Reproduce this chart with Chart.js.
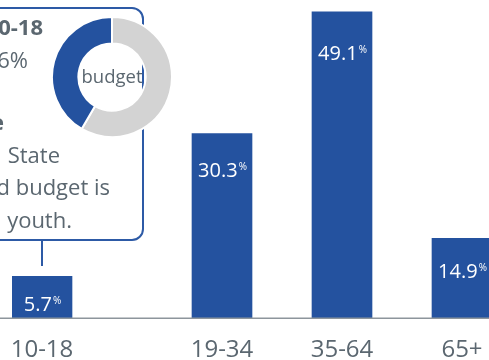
<!DOCTYPE html>
<html>
<head>
<meta charset="utf-8">
<script src="https://cdn.jsdelivr.net/npm/chart.js@4"></script>
<style>
  html, body { margin: 0; padding: 0; background: #fff; overflow: hidden; }
  #stage { position: relative; width: 489px; height: 360px; overflow: hidden; font-family: 'Open Sans', sans-serif; color: #5b6770; }
  #main { position: absolute; left: 0; top: 0; }
  #callout {
    position: absolute; left: -100px; top: 7px; width: 244px; height: 234px;
    box-sizing: border-box; border: 2px solid #2d5aa6; border-radius: 12px; background: #fff;
  }
  #stem { position: absolute; left: 41px; top: 240px; width: 2px; height: 26px; background: #2d5aa6; }
  .line { position: absolute; font-size: 22px; line-height: 33px; white-space: nowrap; text-align: right; }
  .bold { font-weight: bold; }
  #donut { position: absolute; left: 51px; top: 16px; }
  #donutLabel { position: absolute; left: 51px; top: 15px; width: 122px; height: 122px; line-height: 122px; text-align: center; font-size: 18.5px; }
</style>
</head>
<body>
<div id="stage">
  <canvas id="main" width="500" height="383"></canvas>
  <div id="callout"></div>
  <div id="stem"></div>
  <!-- texto del recuadro, recortado por la izquierda como en el original -->
  <div class="line bold" style="right:446px; top:10px;">Ages 10-18</div>
  <div class="line" style="right:461px; top:43px;">41.6%</div>
  <div class="line bold" style="right:485px; top:105px;">Share</div>
  <div class="line" style="right:429px; top:138px;">of the&nbsp;&nbsp; State</div>
  <div class="line" style="right:379px; top:170px;">general fund budget is</div>
  <div class="line" style="right:417px; top:203px;">youth.</div>
  <canvas id="donut" width="122" height="122"></canvas>
  <div id="donutLabel">budget</div>
</div>
<script>
// Datos
const categories = ['10-18', '', '', '19-34', '', '35-64', '', '65+'];
const barValues = [6.7, null, null, 29.6, null, 49.1, null, 12.8];
const barLabels = ['5.7', null, null, '30.3', null, '49.1', null, '14.9'];
const donutLabels = ['Other', 'Youth'];
const donutValues = [58.4, 41.6];

const BLUE = '#24529f';
const GRAY_TEXT = '#5b6770';

// etiquetas dentro de las barras + linea base a todo lo ancho
const barText = {
  id: 'barText',
  afterDatasetsDraw(chart) {
    const ctx = chart.ctx;
    const y = chart.scales.y;
    const base = y.getPixelForValue(0);
    ctx.save();
    ctx.strokeStyle = '#8d959c';
    ctx.lineWidth = 1.5;
    ctx.beginPath();
    ctx.moveTo(0, base);
    ctx.lineTo(chart.width, base);
    ctx.stroke();

    chart.getDatasetMeta(0).data.forEach((bar, i) => {
      if (barLabels[i] == null) return;
      const h = base - bar.y;
      const baseline = Math.min(bar.y + 36 + h * 0.04, base - 7);
      ctx.font = "20px 'Open Sans'";
      const w1 = ctx.measureText(barLabels[i]).width;
      ctx.font = "10px 'Open Sans'";
      const w2 = ctx.measureText('%').width;
      const x0 = bar.x - (w1 + w2) / 2;
      ctx.fillStyle = '#fff';
      ctx.textBaseline = 'alphabetic';
      ctx.textAlign = 'left';
      ctx.font = "20px 'Open Sans'";
      ctx.fillText(barLabels[i], x0, baseline);
      ctx.font = "10px 'Open Sans'";
      ctx.fillText('%', x0 + w1 + 1, baseline - 7);
    });
    ctx.restore();
  }
};

new Chart(document.getElementById('main'), {
  type: 'bar',
  data: {
    labels: categories,
    datasets: [{
      data: barValues,
      backgroundColor: BLUE,
      barPercentage: 1,
      categoryPercentage: 1
    }]
  },
  options: {
    responsive: false,
    animation: false,
    layout: { padding: { left: 12, right: 8, top: 0, bottom: 0 } },
    plugins: { legend: { display: false }, tooltip: { enabled: false } },
    scales: {
      x: {
        grid: { display: false, drawTicks: false },
        border: { display: false },
        afterFit: (scale) => { scale.paddingLeft = 0; scale.paddingRight = 0; },
        ticks: {
          autoSkip: false, maxRotation: 0, padding: 18,
          color: GRAY_TEXT,
          font: { family: "'Open Sans', sans-serif", size: 24 }
        }
      },
      y: { display: false, min: 0, max: 51 }
    }
  },
  plugins: [barText]
});

new Chart(document.getElementById('donut'), {
  type: 'doughnut',
  data: {
    labels: donutLabels,
    datasets: [{
      data: donutValues,
      backgroundColor: ['#d3d3d3', BLUE],
      borderColor: '#fff',
      borderWidth: 2
    }]
  },
  options: {
    responsive: false,
    animation: false,
    cutout: '56%',
    plugins: { legend: { display: false }, tooltip: { enabled: false } }
  }
});
</script>
</body>
</html>
